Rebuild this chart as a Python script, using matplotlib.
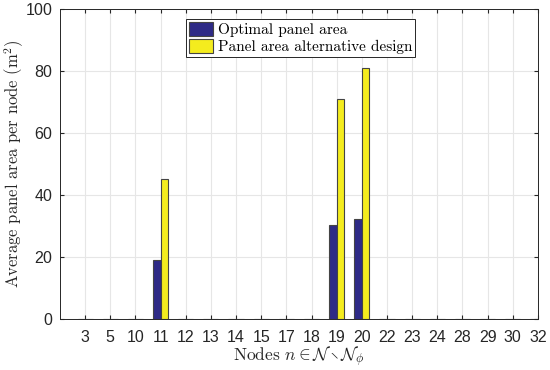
import numpy as np
import matplotlib.pyplot as plt

plt.rcParams['mathtext.fontset'] = 'cm'
plt.rcParams['axes.formatter.use_mathtext'] = True

# Data
nodes = ['3', '5', '10', '11', '12', '13', '14', '15', '17', '18',
         '19', '20', '22', '23', '24', '28', '29', '30', '32']
optimal = [0, 0, 0, 19.1, 0, 0, 0, 0, 0, 0,
           30.3, 32.3, 0, 0, 0, 0, 0, 0, 0]
alternative = [0, 0, 0, 45.2, 0, 0, 0, 0, 0, 0,
               71.0, 80.9, 0, 0, 0, 0, 0, 0, 0]

fig = plt.figure(figsize=(5.5, 3.7), dpi=100)
ax = fig.add_axes([0.109, 0.138, 0.869, 0.838])

x = np.arange(len(nodes))
w = 0.3
ax.bar(x - w/2, optimal, w, color='#2e2a86', edgecolor='#444444', linewidth=0.8,
       label='Optimal panel area', zorder=3)
ax.bar(x + w/2, alternative, w, color='#f4ec1e', edgecolor='#444444', linewidth=0.8,
       label='Panel area alternative design', zorder=3)

ax.set_xlim(-1, 18)
ax.set_ylim(0, 100)
ax.set_xticks(x)
ax.set_xticklabels(nodes)
ax.set_yticks(np.arange(0, 101, 20))
ax.tick_params(direction='in', top=True, right=True, labelsize=11.5,
               colors='#262626', length=3)
ax.tick_params(axis='x', pad=8)
ax.tick_params(axis='y', pad=5)
for lab in ax.get_xticklabels() + ax.get_yticklabels():
    lab.set_family('Liberation Sans')
ax.grid(True, color='#e6e6e6', linewidth=0.8, zorder=0)
ax.set_axisbelow(True)
for s in ax.spines.values():
    s.set_color('#262626')
    s.set_linewidth(0.7)

ax.set_xlabel(r'Nodes $n \in \mathcal{N} \setminus \mathcal{N}_\phi$',
              family='cmr10', fontsize=12.5, color='#262626', labelpad=0)
ax.set_ylabel(r'Average panel area per node (m$^2$)',
              family='cmr10', fontsize=12, color='#262626')
ax.yaxis.set_label_coords(-0.072, 0.5)

leg = ax.legend(loc='upper left', bbox_to_anchor=(0.263, 0.968),
                prop={'family': 'cmr10', 'size': 11}, fancybox=False,
                edgecolor='#262626', framealpha=1, borderpad=0.2,
                handlelength=1.6, handleheight=1.0, handletextpad=0.3,
                labelspacing=0.15, borderaxespad=0)
leg.get_frame().set_linewidth(0.7)

plt.savefig('out.png', dpi=100)
